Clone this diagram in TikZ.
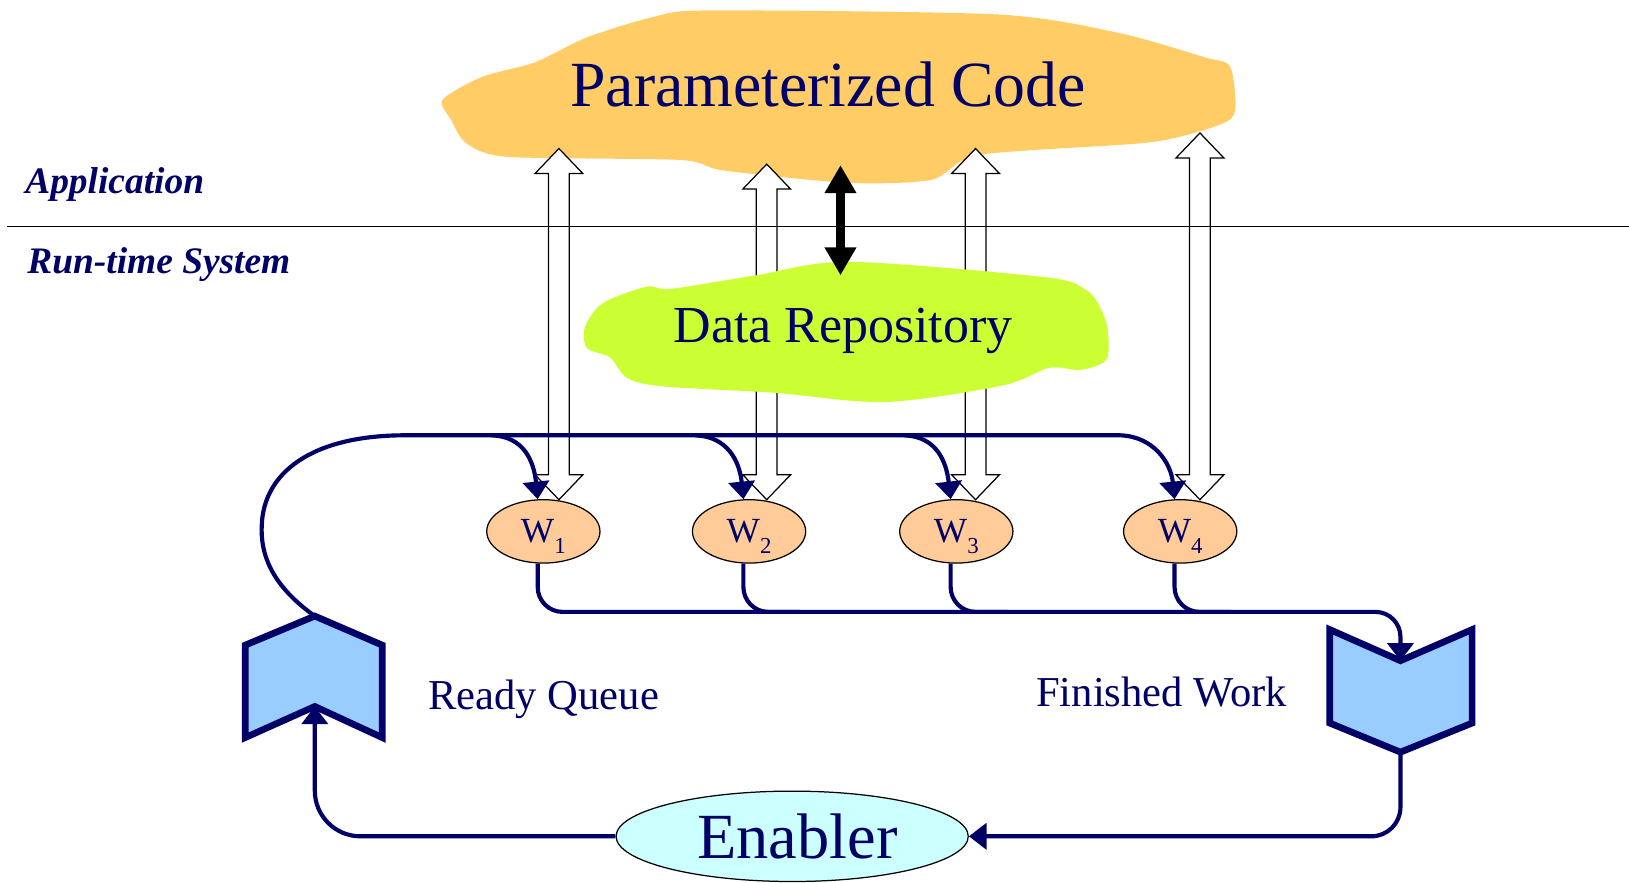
\documentclass[tikz,border=0pt]{standalone}
\usepackage{fontspec}
\setmainfont{Liberation Serif}
\usepackage{graphicx}
\usetikzlibrary{arrows.meta,shapes.geometric}
\definecolor{navyc}{RGB}{0,0,102}
\definecolor{codeor}{RGB}{255,204,102}
\definecolor{repogr}{RGB}{204,255,51}
\definecolor{peach}{RGB}{255,204,153}
\definecolor{qblue}{RGB}{153,204,255}
\definecolor{encyan}{RGB}{204,255,255}
\pgfdeclarelayer{lA}
\pgfdeclarelayer{lB}
\pgfdeclarelayer{lC}
\pgfsetlayers{lA,lB,lC,main}
\newcommand\hollowarr[3]{%
  \filldraw[hollowst] (#1,#2) -- ++(23,24) -- ++(-13,0) -- (#1+10,#3-24) -- ++(13,0) -- (#1,#3)
   -- ++(-23,-24) -- ++(13,0) -- (#1-10,#2+24) -- ++(-13,0) -- cycle;}
\begin{document}
\begin{tikzpicture}[x=0.5pt,y=-0.5pt,
  navyline/.style={draw=navyc, line width=2pt},
  navytip/.style={-{Triangle[length=8.5pt,width=12.5pt]}},
  wnode/.style={ellipse, draw=black, line width=0.6pt, fill=peach, minimum width=54.5pt,
     minimum height=30.5pt, inner sep=0pt, text=navyc, font=\fontsize{17}{17}\selectfont},
  queue/.style={draw=navyc, line width=3.2pt, fill=qblue, line join=miter},
  hollowst/.style={draw=black, fill=white, line width=0.6pt},
  lbl/.style={text=navyc, inner sep=0pt, anchor=base west},
  bigtxt/.style={text=navyc, inner sep=0pt, anchor=base}]
\useasboundingbox (0,0) rectangle (1568,849);

% blobs and hollow arrows on back layers
\begin{pgfonlayer}{lA}
\fill[codeor] plot[smooth cycle, tension=0.45] coordinates {(685,10) (962,14) (1078,32) (1159,55) (1184,64) (1189,106) (1174,120) (1107,137) (943,149) (897,173) (816,176) (696,164) (655,154) (489,151) (449,138) (434,115) (426,96) (464,74) (515,60) (565,36) (630,16)};
\node[bigtxt, font=\fontsize{31}{31}\selectfont] (code) at (797,103) {\scalebox{0.99}[1]{Parameterized Code}};
\end{pgfonlayer}
\begin{pgfonlayer}{lB}
\hollowarr{538}{143}{481}
\hollowarr{738}{158}{481}
\hollowarr{939}{143}{481}
\hollowarr{1155}{128}{481}
\end{pgfonlayer}
\begin{pgfonlayer}{lC}
\fill[repogr] plot[smooth cycle, tension=0.5] coordinates {(817,252) (1007,267) (1045,279) (1058,294) (1066,316) (1065,346) (1040,356) (1010,354) (965,371) (852,387) (745,378) (639,372) (604,364) (587,344) (565,335) (563,315) (580,292) (622,276) (646,278) (728,265)};
\node[bigtxt, font=\fontsize{25}{25}\selectfont] (repo) at (811.5,330) {Data Repository};
\end{pgfonlayer}

% separator and layer labels
\draw[line width=0.7pt] (7,218) -- (1568,218);
\node[lbl, font=\bfseries\itshape\fontsize{18}{18}\selectfont] (app) at (24,186) {Application};
\node[lbl, font=\bfseries\itshape\fontsize{18}{18}\selectfont] (rts) at (26,263) {Run-time System};

% black double arrow
\coordinate (codebot) at (809,159);
\coordinate (repotop) at (809,265);
\draw[line width=4.5pt, {Triangle[length=13.5pt,width=14.5pt]}-{Triangle[length=13.5pt,width=14.5pt]}] (codebot) -- (repotop);

% workers
\node[wnode] (W1) at (523,511.5) {W\smash{\raisebox{-5pt}{\fontsize{11}{11}\selectfont 1}}};
\node[wnode] (W2) at (721,511.5) {W\smash{\raisebox{-5pt}{\fontsize{11}{11}\selectfont 2}}};
\node[wnode] (W3) at (920.5,511.5) {W\smash{\raisebox{-5pt}{\fontsize{11}{11}\selectfont 3}}};
\node[wnode] (W4) at (1136,511.5) {W\smash{\raisebox{-5pt}{\fontsize{11}{11}\selectfont 4}}};

% queues
\coordinate (rqtop) at (303,593);
\coordinate (rqnotch) at (303,680);
\draw[queue] (rqtop) -- (368,621) -- (368,710) -- (rqnotch) -- (236,710) -- (236,621) -- cycle;
\coordinate (fwnotch) at (1348,636);
\coordinate (fwtip) at (1348,724);
\draw[queue] (1280,606) -- (fwnotch) -- (1417,606) -- (1417,696) -- (fwtip) -- (1280,696) -- cycle;

\node[lbl, font=\fontsize{20.5}{20.5}\selectfont] (rql) at (412,683) {Ready Queue};
\node[lbl, font=\fontsize{20.5}{20.5}\selectfont] (fwl) at (997,680) {Finished Work};

% enabler
\node[ellipse, draw=black, line width=0.6pt, fill=encyan, minimum width=169.5pt, minimum height=43.5pt,
  inner sep=0pt, text=navyc, font=\fontsize{31}{31}\selectfont] (en) at (762.5,805) {\hspace*{5pt}Enabler};

% top bus
\coordinate (b1) at (473,419);
\coordinate (b2) at (669,419);
\coordinate (b3) at (870,419);
\coordinate (b4) at (1078,419);
\draw[navyline] (rqtop) .. controls (268,568) and (250,540) .. (252,505) .. controls (254,455) and (300,419) .. (390,419) -- (b4);
\draw[navyline, navytip] (b1) .. controls (505,420) and (514,445) .. (W1.100);
\draw[navyline, navytip] (b2) .. controls (701,420) and (712,445) .. (W2.100);
\draw[navyline, navytip] (b3) .. controls (902,420) and (911,445) .. (W3.100);
\draw[navyline, navytip] (b4) .. controls (1110,420) and (1127,445) .. (W4.100);

% bottom bus
\coordinate (bb) at (1348,589);
\draw[navyline, navytip, rounded corners=12pt] (W1.260) |- (bb) -- (fwnotch);
\draw[navyline, rounded corners=12pt] (W2.260) |- (770,589);
\draw[navyline, rounded corners=12pt] (W3.260) |- (970,589);
\draw[navyline, rounded corners=12pt] (W4.260) |- (1185,589);

% return loop
\draw[navyline, navytip, rounded corners=14pt] (fwtip) |- (en.east);
\draw[navyline, navytip, rounded corners=22pt] (en.west) -| (rqnotch);
\end{tikzpicture}
\end{document}
